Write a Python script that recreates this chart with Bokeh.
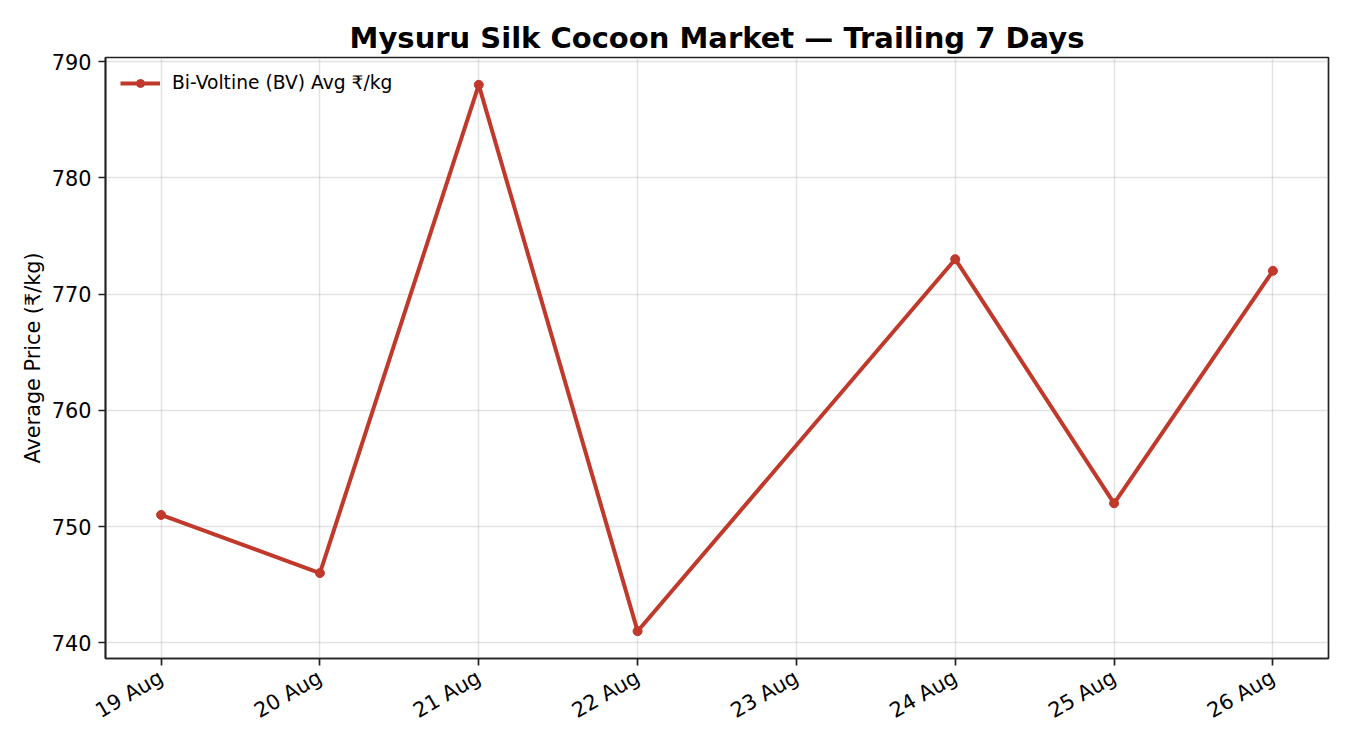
import math
from datetime import datetime

from bokeh.plotting import figure
from bokeh.models import Range1d, FixedTicker, DatetimeTickFormatter, ColumnDataSource
from bokeh.embed import file_html
from bokeh.resources import INLINE

# ---- data ----
dates = ["2024-08-19", "2024-08-20", "2024-08-21", "2024-08-22",
         "2024-08-24", "2024-08-25", "2024-08-26"]
bv_avg_price = [751, 746, 788, 741, 773, 752, 772]
tick_dates = ["2024-08-19", "2024-08-20", "2024-08-21", "2024-08-22",
              "2024-08-23", "2024-08-24", "2024-08-25", "2024-08-26"]
y_ticks = [740, 750, 760, 770, 780, 790]

title_text = "Mysuru Silk Cocoon Market \u2014 Trailing 7 Days"
y_label = "Average Price (\u20b9/kg)"
series_label = "Bi-Voltine (BV) Avg \u20b9/kg"

FONT = "DejaVu Sans"
RED = "#c0392b"

x = [datetime.strptime(d, "%Y-%m-%d") for d in dates]
ticks = [datetime.strptime(d, "%Y-%m-%d") for d in tick_dates]
src = ColumnDataSource(dict(x=x, y=bv_avg_price))

# matplotlib-like 5% margins
span_x = (ticks[-1] - ticks[0]).total_seconds() * 1000
x0 = ticks[0].timestamp() * 1000 - 0.05 * span_x
x1 = ticks[-1].timestamp() * 1000 + 0.05 * span_x
ymin, ymax = min(bv_avg_price), max(bv_avg_price)
span_y = ymax - ymin

p = figure(width=1334, height=740, x_axis_type="datetime",
           output_backend="svg", toolbar_location=None,
           x_range=Range1d(x0, x1),
           y_range=Range1d(ymin - 0.05 * span_y, ymax + 0.05 * span_y),
           min_border_left=105, min_border_right=6,
           min_border_top=57, min_border_bottom=82)

p.title.text = title_text
p.title.align = "center"
p.title.text_font = FONT
p.title.text_font_size = "29px"
p.title.text_font_style = "bold"
p.title.text_color = "black"
p.title.standoff = 6

p.line("x", "y", source=src, color=RED, line_width=4, legend_label=series_label)
p.scatter("x", "y", source=src, size=9, color=RED, legend_label=series_label)

p.xaxis.ticker = FixedTicker(ticks=[t.timestamp() * 1000 for t in ticks])
p.xaxis.formatter = DatetimeTickFormatter(days="%d %b", months="%d %b", hours="%d %b")
p.xaxis.major_label_orientation = math.pi / 6
p.yaxis.ticker = FixedTicker(ticks=y_ticks)
p.yaxis.axis_label = y_label

for ax in (p.xaxis, p.yaxis):
    ax.major_label_text_font = FONT
    ax.major_label_text_font_size = "20.8px"
    ax.major_label_text_color = "black"
    ax.axis_label_text_font = FONT
    ax.axis_label_text_font_size = "20.8px"
    ax.axis_label_text_font_style = "normal"
    ax.axis_label_text_color = "black"
    ax.axis_line_color = "#222222"
    ax.axis_line_width = 1.7
    ax.major_tick_line_color = "#222222"
    ax.major_tick_line_width = 1.7
    ax.major_tick_out = 7
    ax.major_tick_in = 0
    ax.minor_tick_line_color = None
    ax.major_label_standoff = 7
p.xaxis.major_label_standoff = 10
p.yaxis.axis_label_standoff = 4

p.grid.grid_line_color = "#b0b0b0"
p.grid.grid_line_alpha = 0.35
p.grid.grid_line_width = 1.5

p.outline_line_color = "#222222"
p.outline_line_width = 1.7
p.outline_line_alpha = 1.0

p.legend.location = "top_left"
p.legend.border_line_alpha = 0
p.legend.background_fill_alpha = 0
p.legend.margin = 5
p.legend.padding = 10
p.legend.glyph_width = 40
p.legend.label_standoff = 12
p.legend.label_text_font = FONT
p.legend.label_text_font_size = "18.7px"
p.legend.label_text_color = "black"

p.background_fill_color = "white"
p.border_fill_color = "white"

open("out.html", "w").write(file_html(p, INLINE))
